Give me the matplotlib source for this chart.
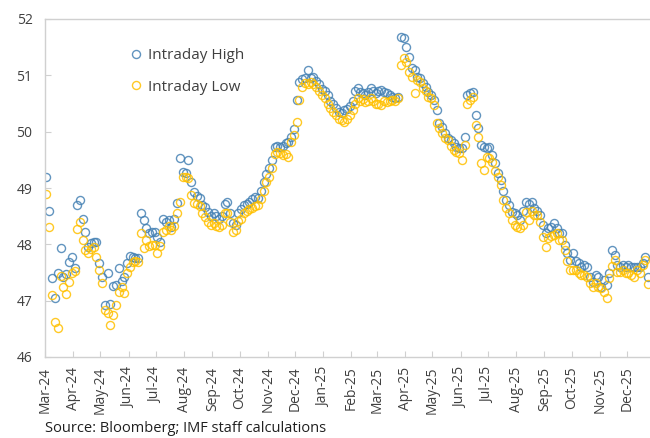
import pandas as pd
import matplotlib
matplotlib.use('Agg')
import matplotlib.pyplot as plt
import matplotlib.dates as mdates

plt.rcParams['font.family'] = ['Open Sans', 'DejaVu Sans']

# ten readings per month from Mar-24, Dec-25 only has 8 (runs to ~24th)
first_month = '2024-03-01'

high = [
    49.2, 48.6, 47.4, 47.05, 47.5, 47.93, 47.42, 47.48, 47.69, 47.78,     # Mar-24
    47.58, 48.7, 48.78, 48.45, 48.22, 47.95, 48.02, 48.05, 48.04, 47.67,  # Apr-24
    47.42, 46.92, 47.5, 46.94, 47.26, 47.28, 47.58, 47.35, 47.42, 47.67,  # May-24
    47.8, 47.78, 47.75, 47.75, 48.56, 48.43, 48.29, 48.2, 48.22, 48.22,   # Jun-24
    48.13, 48.05, 48.45, 48.4, 48.43, 48.3, 48.45, 48.73, 49.53, 49.28,   # Jul-24
    49.27, 49.5, 49.1, 48.93, 48.85, 48.82, 48.7, 48.66, 48.57, 48.5,     # Aug-24
    48.55, 48.5, 48.45, 48.5, 48.72, 48.75, 48.55, 48.38, 48.35, 48.55,   # Sep-24
    48.62, 48.7, 48.72, 48.75, 48.8, 48.84, 48.82, 48.95, 49.1, 49.25,    # Oct-24
    49.35, 49.5, 49.73, 49.74, 49.72, 49.75, 49.8, 49.82, 49.9, 50.05,    # Nov-24
    50.56, 50.88, 50.93, 50.95, 51.09, 50.95, 50.97, 50.9, 50.85, 50.75,  # Dec-24
    50.72, 50.65, 50.55, 50.5, 50.42, 50.35, 50.33, 50.38, 50.4, 50.45,   # Jan-25
    50.55, 50.72, 50.78, 50.7, 50.68, 50.65, 50.7, 50.77, 50.72, 50.68,   # Feb-25
    50.72, 50.74, 50.7, 50.69, 50.65, 50.62, 50.6, 50.62, 51.68, 51.66,   # Mar-25
    51.5, 51.33, 51.13, 51.1, 50.97, 50.95, 50.86, 50.8, 50.7, 50.65,     # Apr-25
    50.56, 50.38, 50.15, 50.08, 49.98, 49.89, 49.85, 49.8, 49.73, 49.71,  # May-25
    49.71, 49.91, 50.65, 50.69, 50.7, 50.3, 50.06, 49.76, 49.73, 49.71,   # Jun-25
    49.73, 49.59, 49.45, 49.27, 49.14, 48.95, 48.78, 48.7, 48.57, 48.55,  # Jul-25
    48.52, 48.43, 48.6, 48.75, 48.72, 48.75, 48.64, 48.6, 48.52, 48.34,   # Aug-25
    48.2, 48.29, 48.3, 48.38, 48.29, 48.2, 48.2, 47.99, 47.84, 47.72,     # Sep-25
    47.84, 47.7, 47.67, 47.6, 47.63, 47.6, 47.42, 47.33, 47.46, 47.42,    # Oct-25
    47.25, 47.37, 47.28, 47.49, 47.9, 47.81, 47.63, 47.6, 47.63, 47.6,    # Nov-25
    47.63, 47.6, 47.6, 47.6, 47.6, 47.67, 47.78, 47.42,                   # Dec-25
]

low = [
    48.9, 48.3, 47.1, 46.62, 46.51, 47.44, 47.24, 47.12, 47.33, 47.5,     # Mar-24
    47.53, 48.27, 48.4, 48.07, 47.9, 47.85, 47.92, 47.95, 47.78, 47.55,   # Apr-24
    47.31, 46.83, 46.78, 46.57, 46.75, 46.92, 47.15, 47.25, 47.13, 47.49, # May-24
    47.6, 47.68, 47.7, 47.68, 48.2, 47.93, 48.07, 47.97, 47.98, 47.98,    # Jun-24
    47.84, 47.97, 48.22, 48.25, 48.32, 48.25, 48.32, 48.55, 48.75, 49.2,  # Jul-24
    49.2, 49.18, 48.88, 48.73, 48.72, 48.68, 48.55, 48.48, 48.4, 48.35,   # Aug-24
    48.38, 48.33, 48.3, 48.35, 48.55, 48.55, 48.4, 48.22, 48.25, 48.42,   # Sep-24
    48.45, 48.55, 48.6, 48.62, 48.65, 48.68, 48.7, 48.8, 48.95, 49.1,     # Oct-24
    49.2, 49.35, 49.6, 49.64, 49.62, 49.58, 49.6, 49.55, 49.82, 49.94,    # Nov-24
    50.17, 50.56, 50.8, 50.86, 50.85, 50.88, 50.85, 50.8, 50.72, 50.65,   # Dec-24
    50.6, 50.5, 50.42, 50.35, 50.3, 50.22, 50.2, 50.18, 50.22, 50.3,      # Jan-25
    50.38, 50.5, 50.6, 50.55, 50.58, 50.53, 50.55, 50.6, 50.55, 50.5,     # Feb-25
    50.5, 50.47, 50.55, 50.53, 50.55, 50.56, 50.55, 50.6, 51.18, 51.3,    # Mar-25
    51.24, 51.06, 50.97, 50.69, 50.92, 50.88, 50.77, 50.72, 50.62, 50.6,  # Apr-25
    50.47, 50.15, 50.06, 49.98, 49.89, 49.85, 49.75, 49.67, 49.64, 49.62, # May-25
    49.5, 49.76, 50.5, 50.56, 50.62, 50.12, 49.91, 49.44, 49.32, 49.55,   # Jun-25
    49.53, 49.46, 49.3, 49.2, 49.05, 48.79, 48.64, 48.55, 48.43, 48.35,   # Jul-25
    48.3, 48.29, 48.35, 48.57, 48.43, 48.6, 48.52, 48.52, 48.4, 48.13,    # Aug-25
    47.95, 48.11, 48.15, 48.16, 48.2, 48.07, 48.07, 47.9, 47.7, 47.55,    # Sep-25
    47.55, 47.55, 47.5, 47.46, 47.46, 47.42, 47.31, 47.24, 47.31, 47.25,  # Oct-25
    47.22, 47.15, 47.05, 47.4, 47.62, 47.72, 47.51, 47.51, 47.55, 47.49,  # Nov-25
    47.49, 47.46, 47.42, 47.55, 47.49, 47.63, 47.72, 47.3,                # Dec-25
]

labels = ['Intraday High', 'Intraday Low']
source = 'Source: Bloomberg; IMF staff calculations'

# spread each month's readings evenly over the month
months = pd.date_range(first_month, periods=22, freq='MS')
dates = []
for i in range(len(high)):
    m = months[i // 10]
    dates.append(m + pd.Timedelta(days=(i % 10 + 0.5) * m.days_in_month / 10))

blue = '#4682b4'
gold = '#ffc000'
grey = '#d0d0d0'
txt = '#404040'

fig = plt.figure(figsize=(6.5, 4.38), dpi=100)
ax = fig.add_axes([45 / 650, 81 / 438, 605 / 650, 338 / 438])

ax.plot(dates, high, 'o', ms=5.8, mfc='none', mec=blue, mew=1.0, alpha=0.85, label=labels[0])
ax.plot(dates, low, 'o', ms=5.8, mfc='none', mec=gold, mew=1.0, alpha=0.85, label=labels[1])

ax.set_ylim(46, 52)
ax.set_yticks(range(46, 53))
ax.set_xlim(pd.Timestamp('2024-03-01'), pd.Timestamp('2025-12-26 06:00'))
ax.xaxis.set_major_locator(mdates.MonthLocator())
ax.xaxis.set_major_formatter(mdates.DateFormatter('%b-%y'))
plt.setp(ax.get_xticklabels(), rotation=90, ha='center')

for s in ['left', 'bottom', 'top']:
    ax.spines[s].set_color(grey)
    ax.spines[s].set_linewidth(1)
ax.spines['right'].set_visible(False)
ax.tick_params(axis='both', direction='in', length=4, color=grey, labelcolor=txt, labelsize=10)
ax.tick_params(axis='y', pad=9)
ax.tick_params(axis='x', pad=7)

fig.legend(loc='upper left', bbox_to_anchor=(130 / 650, 1 - 48 / 438), frameon=False,
           fontsize=11, handlelength=0.8, handletextpad=0.4, labelspacing=1.1,
           borderpad=0, borderaxespad=0, numpoints=1, labelcolor=txt)

fig.text(45 / 650, 1 - 429 / 438, source, fontsize=10.5, color='#202020', va='center', ha='left')

fig.savefig('out.png', dpi=100)
